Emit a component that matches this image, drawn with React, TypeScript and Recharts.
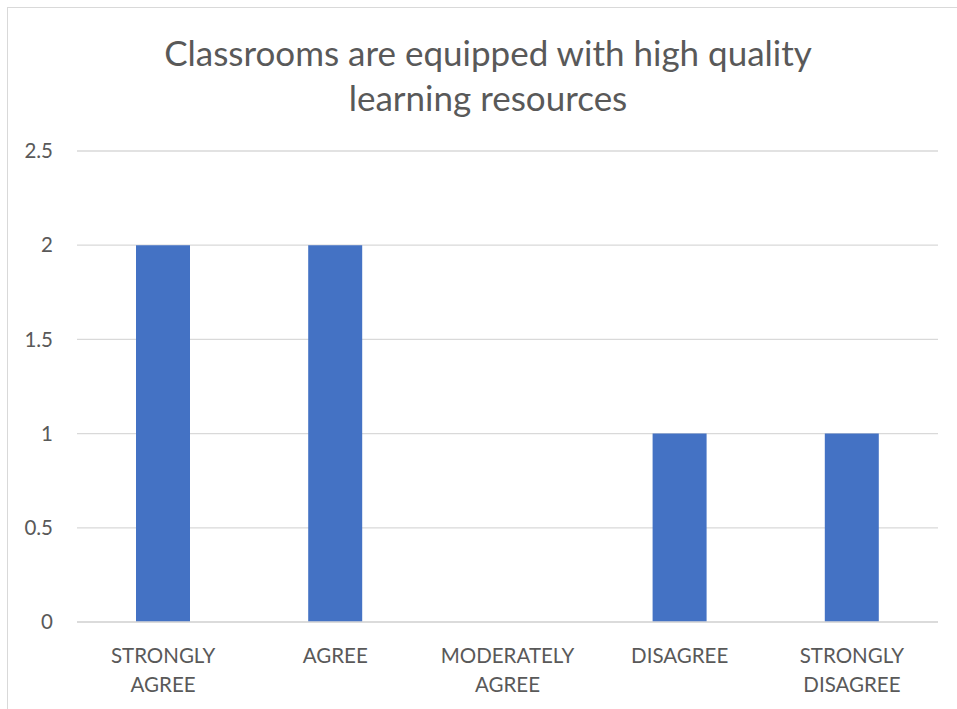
import React from 'react';
import { BarChart, Bar, XAxis, YAxis, CartesianGrid } from 'recharts';

const categories = ['STRONGLY AGREE', 'AGREE', 'MODERATELY AGREE', 'DISAGREE', 'STRONGLY DISAGREE'];
const categoryLines = [['STRONGLY', 'AGREE'], ['AGREE'], ['MODERATELY', 'AGREE'], ['DISAGREE'], ['STRONGLY', 'DISAGREE']];
const values = [2, 2, 0, 1, 1];
const yTicks = [0, 0.5, 1, 1.5, 2, 2.5];
const titleLines = ['Classrooms are equipped with high quality', 'learning resources'];

const data = categories.map((c, i) => ({ name: c, value: values[i] }));

const FONT = 'Lato, "Liberation Sans", sans-serif';
const GREY = '#595959';

const XTick = (props: any) => {
  const { x, y, index } = props;
  const lines = categoryLines[index] || [];
  return (
    <g>
      {lines.map((l, i) => (
        <text key={i} x={x} y={y + 33 + i * 29} textAnchor="middle" dominantBaseline="central"
          fill={GREY} fontSize={20.5} fontFamily={FONT}>{l}</text>
      ))}
    </g>
  );
};

export default function App() {
  return (
    <div style={{ position: 'fixed', left: 7, top: 7, width: 960, height: 720, border: '1px solid #d9d9d9', boxSizing: 'border-box', background: '#fff' }}>
      {titleLines.map((t, i) => (
        <div key={i} style={{ position: 'absolute', left: 0, width: 960, top: 52 - 8 + i * 45 - 20, height: 40, lineHeight: '40px', textAlign: 'center', fontFamily: FONT, fontSize: 35, color: GREY, whiteSpace: 'nowrap' }}>{t}</div>
      ))}
      <div style={{ position: 'absolute', left: 0, top: 0 }}>
        <BarChart width={949} height={701} data={data} margin={{ top: 143, right: 19, left: 0, bottom: 0 }}>
          <CartesianGrid vertical={false} stroke="#d9d9d9" strokeWidth={1.3} />
          <XAxis dataKey="name" height={87} axisLine={{ stroke: '#d9d9d9', strokeWidth: 1.3 }} tickLine={false} tickSize={0} tickMargin={0} tick={<XTick />} interval={0} />
          <YAxis width={69} domain={[0, 2.5]} ticks={yTicks} axisLine={false} tickLine={false} tickSize={0} tickMargin={24}
            tick={{ fill: GREY, fontSize: 20.5, fontFamily: FONT }} />
          <Bar dataKey="value" fill="#4472c4" barSize={54} isAnimationActive={false} />
        </BarChart>
      </div>
    </div>
  );
}
